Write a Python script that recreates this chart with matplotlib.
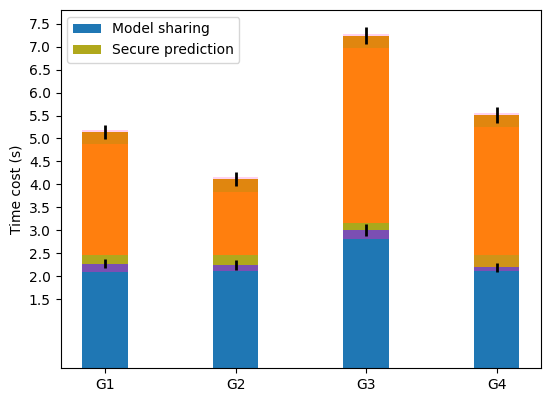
import numpy as np
import matplotlib
matplotlib.use("Agg")
import matplotlib.pyplot as plt

groups = ["G1", "G2", "G3", "G4"]

# top of each stacked layer (s)
sharing_main = [2.10, 2.11, 2.82, 2.11]
sharing_extra = [2.27, 2.24, 3.00, 2.19]
predict_start = [2.46, 2.46, 3.15, 2.46]
predict_main = [4.88, 3.84, 6.96, 5.25]
predict_total = [5.14, 4.12, 7.24, 5.51]
pad_top = [5.18, 4.16, 7.28, 5.56]

sharing_err = [0.10, 0.11, 0.13, 0.10]
total_err = [0.16, 0.15, 0.19, 0.18]

x = np.arange(len(groups))
width = 0.35

fig, ax = plt.subplots(figsize=(5.5, 3.94), dpi=100)
fig.subplots_adjust(left=0.11, right=0.984, top=0.975, bottom=0.066)

olive = ["#b0a81c", "#b0a81c", "#a9a81c", "#cf9418"]
layers = [
    (np.zeros(4), sharing_main, "#1f77b4", "Model sharing"),
    (sharing_main, sharing_extra, "#7b4fb3", None),
    (sharing_extra, predict_start, olive, None),
    (predict_start, predict_main, "#ff7f0e", None),
    (predict_main, predict_total, "#e0860f", None),
    (predict_total, pad_top, "#ffd2f0", None),
]
for lo, hi, color, label in layers:
    lo = np.asarray(lo)
    hi = np.asarray(hi)
    ax.bar(x, hi - lo, width, bottom=lo, color=color, label=label)

# legend proxy for the prediction part
ax.bar(x, 0, width, bottom=0, color="#b0a81c", label="Secure prediction")

ax.errorbar(x, sharing_extra, yerr=sharing_err, fmt="none", ecolor="black", elinewidth=2)
ax.errorbar(x, predict_total, yerr=total_err, fmt="none", ecolor="black", elinewidth=2)

ax.set_xticks(x)
ax.set_xticklabels(groups)
ax.set_yticks(np.arange(1.5, 7.6, 0.5))
ax.set_ylabel("Time cost (s)")
ax.legend(loc="upper left")

plt.savefig("out.png")
